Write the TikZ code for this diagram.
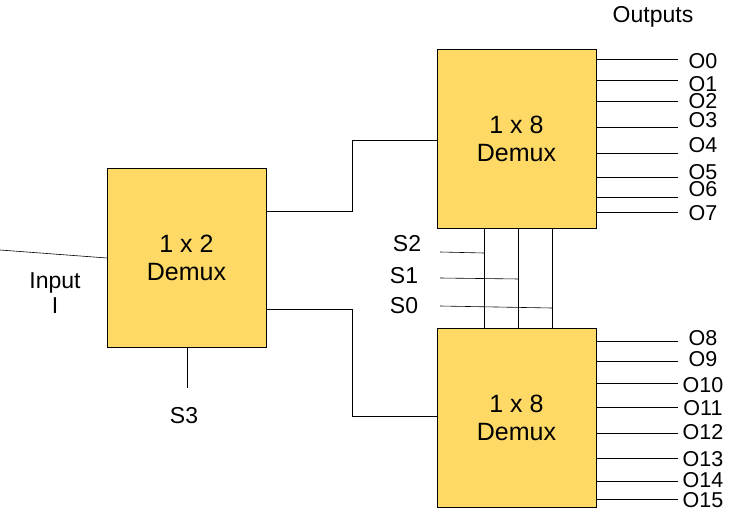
\documentclass[tikz,border=0pt]{standalone}
\usepackage{fontspec}
\setmainfont{Liberation Sans}
\usetikzlibrary{calc}
\definecolor{boxfill}{RGB}{255,217,102}
\tikzstyle{demux}=[draw, fill=boxfill, line width=0.6pt, minimum width=159pt, minimum height=179pt, align=center, font=\fontsize{25}{28}\selectfont]
\tikzstyle{wire}=[line width=0.6pt]
\tikzstyle{lbl}=[font=\fontsize{23}{25}\selectfont, inner sep=0pt]
\tikzstyle{olbl}=[font=\fontsize{21.5}{22}\selectfont, inner sep=0pt]
\begin{document}
\begin{tikzpicture}[x=1pt,y=-1pt]
\useasboundingbox (0,0) rectangle (735,529);
\node[demux] (dm2) at (186.5,257.5) {1 x 2\\Demux};
\node[demux] (dmA) at (516.5,139) {1 x 8\\Demux};
\node[demux] (dmB) at (516.5,417.5) {1 x 8\\Demux};
% input and S3
\coordinate (in) at (0,250);
\draw[wire] (in) -- (107,258);
\node[lbl, align=center] (inl) at (55,293) {Input\\I};
\coordinate (s3) at (187,388);
\draw[wire] (dm2.south -| s3) -- (s3);
\node[lbl] (s3l) at (184,416) {S3};
% links between the demuxes
\draw[wire] (266,211) -- (352,211) -- (352,140) -- (437,140);
\draw[wire] (266,309) -- (352,309) -- (352,416) -- (437,416);
% select lines
\foreach \x in {484,518,552}
	\draw[wire] (\x,228) -- (\x,328);
\draw[wire] (440,252) -- (484,253);
\draw[wire] (440,278) -- (519,279);
\draw[wire] (440,306) -- (552,308);
\node[lbl] (s2l) at (407,244) {S2};
\node[lbl] (s1l) at (404,276) {S1};
\node[lbl] (s0l) at (404,306) {S0};
% outputs
\node[lbl] (outl) at (653,17) {Outputs};
\foreach \y/\n in {59/0,80/1,101/2,127/3,153/4,177/5,197/6,212/7}
	\draw[wire] (596,\y) -- (678,\y);
\foreach \y/\n in {61/0,84/1,101/2,120/3,145/4,172/5,189/6,213/7}
	\node[olbl] (o\n) at (703,\y) {O\n};
\foreach \y in {341,361,383,407,433,458,481,499}
	\draw[wire] (596,\y) -- (678,\y);
\foreach \y/\n in {338/8,359/9,385/10,408/11,432/12,459/13,480/14,500/15}
	\node[olbl] (o\n) at (703,\y) {O\n};
\end{tikzpicture}
\end{document}
